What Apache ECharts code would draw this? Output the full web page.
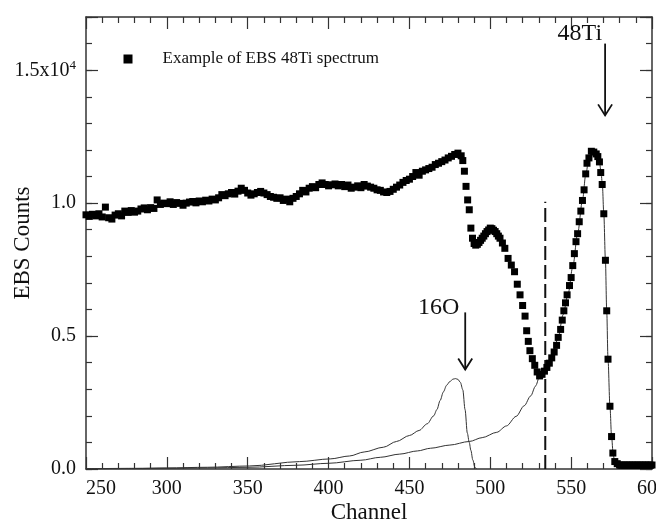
<!DOCTYPE html>
<html>
<head>
<meta charset="utf-8">
<script src="https://cdn.jsdelivr.net/npm/echarts@6/dist/echarts.min.js"></script>
<style>
  html, body { margin: 0; padding: 0; background: #fff; }
  #chart { width: 656px; height: 525px; }
</style>
</head>
<body>
<div id="chart"></div>
<script>
// Measured EBS spectrum: [channel, counts]
const ebsSpectrum = [
  [250,9560],[252,9500],[254,9580],[256,9520],[258,9600],[260,9480],[262,9850],[264,9450],[266,9400],[268,9550],
  [270,9600],[272,9520],[274,9700],[276,9650],[278,9720],[280,9660],[282,9700],[284,9780],[286,9820],[288,9750],
  [290,9830],[292,9800],[294,10120],[296,9950],[298,10000],[300,9980],[302,10050],[304,9950],[306,10020],[308,9990],
  [310,9920],[312,10000],[314,10040],[316,10060],[318,10010],[320,10080],[322,10050],[324,10110],[326,10080],[328,10150],
  [330,10120],[332,10200],[334,10320],[336,10280],[338,10350],[340,10400],[342,10340],[344,10450],[346,10560],[348,10480],
  [350,10380],[352,10300],[354,10350],[356,10400],[358,10440],[360,10380],[362,10320],[364,10250],[366,10220],[368,10180],
  [370,10200],[372,10100],[374,10150],[376,10050],[378,10180],[380,10250],[382,10350],[384,10480],[386,10420],[388,10560],
  [390,10620],[392,10580],[394,10700],[396,10760],[398,10700],[400,10650],[402,10690],[404,10720],[406,10650],[408,10700],
  [410,10620],[412,10680],[414,10560],[416,10600],[418,10650],[420,10580],[422,10700],[424,10640],[426,10600],[428,10560],
  [430,10500],[432,10480],[434,10420],[436,10400],[438,10440],[440,10520],[442,10600],[444,10680],[446,10780],[448,10850],
  [450,10900],[452,11000],[454,11150],[456,11050],[458,11200],[460,11250],[462,11300],[464,11350],[466,11450],[468,11500],
  [470,11560],[472,11620],[474,11700],[476,11760],[478,11830],[480,11880],[482,11780],
  [483,11600],[484,11200],[485,10630],[486,10120],[487,9750],[488,9060],[489,8680],[490,8480],[491,8420],[492,8450],
  [493,8520],[494,8600],[495,8680],[496,8760],[497,8850],[498,8930],[499,8990],[500,9060],[501,9040],[502,8980],
  [503,8930],[504,8850],[505,8760],[506,8680],[507.5,8500],[509,8300],[511,7920],[513,7670],[515,7420],[516.7,6950],
  [518.4,6550],[520,6150],[521.5,5750],[522.5,5200],[523.5,4800],[524.5,4450],[526,4150],[527.5,3900],[529,3650],[530.5,3500],
  [532,3560],[533.5,3680],[535,3820],[536.5,3980],[538,4180],[539.5,4400],[541,4650],[542,4950],[543.5,5250],[544.5,5600],
  [545.5,5950],[546.5,6250],[547.5,6550],[549,6900],[550,7200],[551,7650],[552,8100],[553,8550],[554,8850],[555,9300],
  [556,9700],[557,10100],[558,10500],[559,11100],[559.8,11500],[561,11700],[562.5,11950],[564,11920],[565.5,11850],[566.5,11750],
  [567.5,11550],[568.3,11150],[569.2,10700],[570.2,9600],[571.2,7850],[572,5950],[572.8,4130],[574,2360],[575,1220],[575.8,600],
  [577,280],[578.5,200],[580,150],[581,140],[582,150],[583,140],[584,150],[585,140],[586,150],[587,140],
  [588,150],[589,140],[590,150],[591,140],[592,150],[593,140],[594,150],[595,140],[596,150],[597,140],
  [598,150],[599,140],[600,150]
];

// Simulated 48Ti contribution: [channel, counts]
const ti48Fit = [
  [250,5],[280,15],[300,25],[325,40],[350,63],[380,140],[400,215],[420,330],[432,440],[444,560],
  [455,680],[463,780],[475,900],[487,1035],[495,1180],[504,1380],[510,1620],[516,1980],[521,2380],[525,2750],
  [528,3120],[530.5,3480],[533,3660],[536,3980],[539,4400],[542,4950],[545,5800],[548,6550],[551,7600],[554,8850],
  [557,10100],[559,11050],[561,11700],[562.5,11950],[564,11920],[566,11750],[567.5,11550],[568.5,11150],[569.3,10700],[570.2,9600],
  [571.2,7850],[572,5950],[572.8,4130],[574,2360],[575,1220],[576,560],[577,220],[578,60],[579,0]
];

// Simulated 16O contribution: [channel, counts]
const o16Fit = [
  [250,10],[280,25],[300,40],[325,65],[351,114],[382,278],[401,380],[413,490],[422,640],[434,820],
  [442,1035],[450,1260],[456,1450],[461,1700],[465,2000],[467,2235],[469,2580],[471,2900],[473,3150],[475,3290],
  [477,3380],[478.5,3400],[480,3370],[481.5,3260],[483,2980],[484.4,2235],[485.8,1350],[487,1000],[488,700],[489.2,340],
  [490.5,60],[491.5,0]
];

// Vertical dashed marker: [channel, counts]
const dividerLine = [[534,0],[534,10050]];

// Peak annotations
const arrowLabels = ['48Ti', '16O'];
const arrowChannels = [571, 484.5];
const arrowTops = [16000, 5890];
const arrowTips = [13300, 3740];

// Y tick labels
const yTickLabels = { 0: '0.0', 5000: '0.5', 10000: '1.0', 15000: '{m|1.5x10}{s|4}' };

const SERIF = '"Liberation Serif", "Times New Roman", serif';
const INK = '#111';
const FRAME = { color: '#333', width: 1.5 };

// label placement relative to each arrow's tail (px)
const labelShift = [[-3, -10], [-6, -5]];

const chart = echarts.init(document.getElementById('chart'), null, { renderer: 'canvas' });

function xAxisBase(pos) {
  return {
    type: 'value', min: 250, max: 600, interval: 50, position: pos,
    axisLine: { show: true, onZero: false, lineStyle: FRAME },
    axisTick: { show: true, inside: true, length: 12, lineStyle: { color: '#333', width: 1.2 } },
    minorTick: { show: true, splitNumber: 5, length: 6, lineStyle: { color: '#333', width: 1.2 } },
    splitLine: { show: false }, minorSplitLine: { show: false }
  };
}
function yAxisBase(pos, step, tickLen, showLine) {
  return {
    type: 'value', min: 0, max: 17000, interval: step, position: pos,
    axisLine: { show: showLine, onZero: false, lineStyle: FRAME },
    axisTick: { show: true, inside: true, length: tickLen, lineStyle: { color: '#333', width: 1.2 } },
    axisLabel: { show: false },
    splitLine: { show: false }
  };
}

const bottomX = Object.assign(xAxisBase('bottom'), {
  axisLabel: {
    show: true, margin: 10, color: INK, fontFamily: SERIF, fontSize: 20,
    alignMinLabel: 'left'
  },
  name: 'Channel', nameLocation: 'middle', nameGap: 32, nameMoveOverlap: false,
  nameTextStyle: { color: INK, fontFamily: SERIF, fontSize: 23 }
});
const topX = Object.assign(xAxisBase('top'), { axisLabel: { show: false } });

const leftY = Object.assign(yAxisBase('left', 5000, 12, true), {
  axisLabel: {
    show: true, margin: 10, color: INK, fontFamily: SERIF, fontSize: 20,
    formatter: v => (yTickLabels[v] !== undefined ? yTickLabels[v] : ''),
    rich: {
      m: { fontFamily: SERIF, fontSize: 20, color: INK, lineHeight: 22, verticalAlign: 'bottom' },
      s: { fontFamily: SERIF, fontSize: 13, color: INK, lineHeight: 13, verticalAlign: 'top' }
    }
  },
  name: 'EBS Counts', nameLocation: 'middle', nameGap: 52, nameMoveOverlap: false,
  nameTextStyle: { color: INK, fontFamily: SERIF, fontSize: 23 }
});

chart.setOption({
  animation: false,
  backgroundColor: '#fff',
  textStyle: { fontFamily: SERIF },
  grid: { left: 86, right: 4, top: 17, bottom: 56, containLabel: false, outerBoundsMode: 'none' },
  legend: {
    data: ['Example of EBS 48Ti spectrum'],
    left: 123.5, top: 50.5, padding: 0,
    icon: 'path://M0,0L9,0L9,9L0,9Z M34,0L34,9',
    itemWidth: 34, itemHeight: 9,
    textStyle: { color: INK, fontFamily: SERIF, fontSize: 17 },
    selectedMode: false
  },
  xAxis: [bottomX, topX],
  yAxis: [
    leftY,
    yAxisBase('left', 1000, 6, false),
    yAxisBase('right', 5000, 12, true),
    yAxisBase('right', 1000, 6, false)
  ],
  series: [
    {
      name: '16O simulation', type: 'line', data: o16Fit,
      showSymbol: false, smooth: 0.3, smoothMonotone: 'x',
      lineStyle: { color: '#333', width: 1 }, z: 2
    },
    {
      name: '48Ti simulation', type: 'line', data: ti48Fit,
      showSymbol: false, smooth: 0.3, smoothMonotone: 'x',
      lineStyle: { color: '#333', width: 1 }, z: 2
    },
    {
      name: 'divider', type: 'line', data: dividerLine, showSymbol: false,
      lineStyle: { color: INK, width: 2, type: [14, 5] }, z: 2
    },
    {
      name: 'Example of EBS 48Ti spectrum', type: 'scatter', data: ebsSpectrum,
      symbol: 'rect', symbolSize: 7,
      itemStyle: { color: '#000', opacity: 1 }, z: 3
    },
    {
      name: 'peaks', type: 'custom',
      data: arrowChannels.map((c, i) => [c, arrowTops[i], arrowTips[i]]),
      encode: { x: 0, y: [1, 2] },
      renderItem: function (params, api) {
        const i = params.dataIndex;
        const a = api.coord([api.value(0), api.value(1)]);
        const b = api.coord([api.value(0), api.value(2)]);
        const sh = labelShift[i];
        return {
          type: 'group',
          children: [
            { type: 'line', shape: { x1: a[0], y1: a[1], x2: b[0], y2: b[1] },
              style: { stroke: INK, lineWidth: 1.8 } },
            { type: 'polyline', shape: { points: [[b[0] - 7, b[1] - 11], [b[0], b[1]], [b[0] + 7, b[1] - 11]] },
              style: { stroke: INK, lineWidth: 1.8, fill: null } },
            { type: 'text', x: a[0] + sh[0], y: a[1] + sh[1],
              style: { text: arrowLabels[i], fill: INK, fontFamily: SERIF, fontSize: 24,
                       align: 'right', verticalAlign: 'middle' } }
          ]
        };
      },
      z: 4
    }
  ]
});
</script>
</body>
</html>
